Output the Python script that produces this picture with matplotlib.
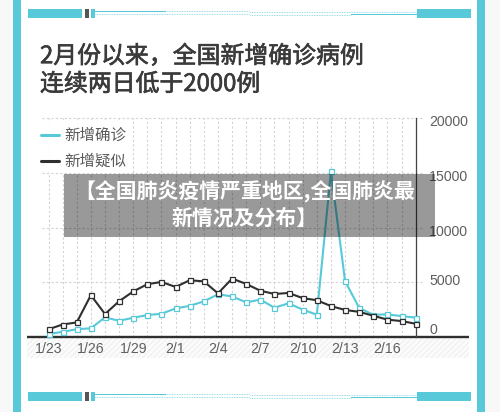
import matplotlib
matplotlib.use("Agg")
import matplotlib.pyplot as plt
import matplotlib.patheffects as pe
from matplotlib.patches import Rectangle
from matplotlib.transforms import ScaledTranslation
import matplotlib as mpl

plt.rcParams['font.family'] = ['Noto Sans CJK SC', 'DejaVu Sans']
mpl.rcParams['hatch.linewidth'] = 0.3
mpl.rcParams['hatch.color'] = '#dedede'

dates = ['1/23','1/24','1/25','1/26','1/27','1/28','1/29','1/30','1/31','2/1','2/2','2/3','2/4',
         '2/5','2/6','2/7','2/8','2/9','2/10','2/11','2/12','2/13','2/14','2/15','2/16','2/17','2/18']
confirmed = [259,444,688,769,1771,1459,1737,1982,2102,2590,2829,3235,3887,
             3694,3143,3399,2656,3062,2478,2015,15152,5090,2641,2009,2048,1886,1749]
suspected = [680,1118,1309,3806,2077,3248,4148,4812,5019,4562,5173,5072,3971,
             5328,4833,4214,3916,4008,3536,3342,2807,2450,2277,1918,1563,1432,1185]
yticks = [0,5000,10000,15000,20000]
ylabel_shift_px = [8,2.5,-2.5,-2.5,-2.5]
title_lines = ['2月份以来，全国新增确诊病例','连续两日低于2000例']
legend_names = ['新增确诊','新增疑似']
banner_lines = ['【全国肺炎疫情严重地区,全国肺炎最','新情况及分布】']

TEAL = '#57c9d8'
DARK = '#2f2f2f'
W, H = 500, 412
fig = plt.figure(figsize=(W/100, H/100), dpi=100, facecolor='#f8f8f8')

# page layer in pixel coordinates
bg = fig.add_axes([0,0,1,1]); bg.set_xlim(0,W); bg.set_ylim(H,0); bg.axis('off')
bg.add_patch(Rectangle((20.5,0),457,H,fc='white',ec='none',zorder=0))
for x in (13.3,477.3):
    bg.add_patch(Rectangle((x,0),7.5,H,fc=TEAL,ec='none',zorder=1))

def rect(a,b,y,h,c):
    bg.add_patch(Rectangle((a,y),b-a,h,fc=c,ec='none',zorder=2))
def dotted(a,b,y):
    bg.plot([a,b],[y,y],color=TEAL,lw=0.6,alpha=0.8,ls=(0,(1,1)),zorder=2)
def strip_left(y):
    rect(28,82,y,9,TEAL); rect(85,89,y,9,'#555555'); rect(91,95,y,9,TEAL)
    rect(95,166,y+1.6,1.2,TEAL)
    dotted(95,250,y+2.2); dotted(95,250,y+5)
def strip_right(y):
    rect(417,471,y,9,TEAL)
    rect(351,417,y+5,1.2,TEAL)
    dotted(250,417,y+2.6); dotted(250,351,y+5.6)
for yy in (9,392):
    strip_left(yy); strip_right(yy)

bg.add_patch(Rectangle((27,337),442,21,fc='#fbfbfb',ec='#dedede',lw=0,hatch='//////',zorder=1))
for i,t in enumerate(title_lines):
    bg.text(40,[56.5,84.5][i],t,fontsize=17.2,fontweight='normal',color='#3a3a3a',va='center',ha='left',zorder=3,
            path_effects=[pe.withStroke(linewidth=0.45,foreground='#3a3a3a')])

# chart
x0_px, x1_px, top_px, bot_px = 48.5, 415.7, 118.5, 336.7
ax = fig.add_axes([x0_px/W, 1-bot_px/H, (x1_px-x0_px)/W, (bot_px-top_px)/H])
ax.patch.set_alpha(0)
xs = list(range(len(dates)))
ax.set_xlim(0,len(dates)-1); ax.set_ylim(0,20000)
for s in ax.spines.values(): s.set_visible(False)
ax.spines['right'].set_visible(True); ax.spines['right'].set_linewidth(0.9); ax.spines['right'].set_color('#444444')
ax.set_xticks(xs[::3]); ax.set_xticklabels(dates[::3])
ax.yaxis.tick_right(); ax.set_yticks(yticks); ax.set_yticklabels([str(v) for v in yticks])
ax.tick_params(axis='both',length=0,labelsize=10.2,labelcolor='#5f5f5f')
ax.tick_params(axis='x',pad=4); ax.tick_params(axis='y',pad=9.6)
for lab in ax.get_xticklabels()+ax.get_yticklabels():
    lab.set_fontfamily('Liberation Sans')
for lab,s in zip(ax.get_yticklabels(),ylabel_shift_px):
    lab.set_transform(lab.get_transform()+ScaledTranslation(0,s/100,fig.dpi_scale_trans))
grid = dict(color='#d2d2d2',lw=0.8,ls=(0,(2,2)),zorder=0)
for x in xs: ax.plot([x,x],[0,20000],clip_on=False,**grid)
for v in yticks[1:]: ax.plot([-0.48,26.5],[v,v],clip_on=False,**grid)
# white legend backing
ax.add_patch(Rectangle((41,122),88,51,transform=bg.transData,fc='white',ec='none',zorder=1))
ax.plot([-1.52,29.8],[0,0],color=DARK,lw=1.7,clip_on=False,zorder=2,solid_capstyle='butt')
ax.plot(xs,confirmed,color=TEAL,lw=1.5,marker='s',ms=3.6,mfc='white',mec=TEAL,mew=0.9,clip_on=False,zorder=3)
ax.plot(xs,suspected,color=DARK,lw=1.5,marker='s',ms=3.6,mfc='white',mec=DARK,mew=0.9,clip_on=False,zorder=4)

# legend and banner on top
top = fig.add_axes([0,0,1,1]); top.set_xlim(0,W); top.set_ylim(H,0); top.axis('off'); top.patch.set_alpha(0)
for name,y,c in zip(legend_names,(135,161),(TEAL,DARK)):
    top.plot([41,59],[y,y],color=c,lw=2.2,solid_capstyle='round')
    top.text(64,y+0.5,name,fontsize=11.2,color='#5a5a5a',va='center',ha='left')
top.add_patch(Rectangle((64,174),371,63,fc='black',alpha=0.4,ec='none'))
for t,y in zip(banner_lines,(192,218)):
    top.text(245,y,t,fontsize=15,fontweight='bold',color='white',va='center',ha='center')
fig.savefig('out.png',dpi=100,facecolor=fig.get_facecolor())
